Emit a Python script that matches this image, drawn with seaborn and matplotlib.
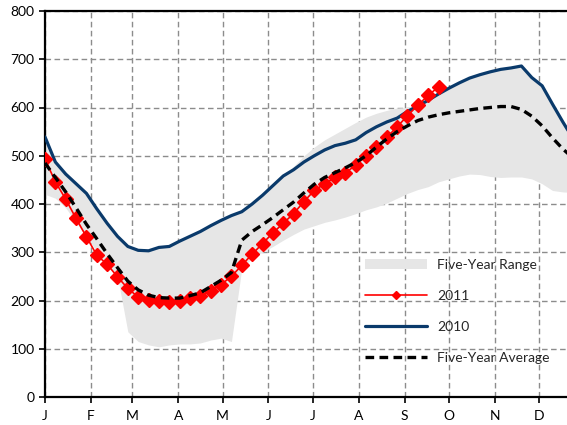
import numpy as np
import pandas as pd
import matplotlib
matplotlib.use("Agg")
import matplotlib.pyplot as plt
from matplotlib.patches import Patch
from matplotlib.lines import Line2D
import seaborn as sns

# Month labels and first day of each month (x axis is in weeks)
months = ["J", "F", "M", "A", "M", "J", "J", "A", "S", "O", "N", "D"]
month_start_day = [0, 31, 59, 90, 120, 151, 181, 212, 243, 273, 304, 334]

weeks = list(range(52))

# Five-year range (min / max)
range_low = [420, 412, 392, 362, 332, 302, 274, 250, 135, 115,
             108, 104, 108, 110, 110, 112, 118, 122, 115, 266,
             288, 300, 312, 325, 337, 348, 355, 362, 367, 373,
             380, 388, 394, 402, 412, 422, 430, 436, 446, 452,
             458, 462, 461, 457, 455, 456, 456, 452, 442, 428,
             425, 424]
range_high = [539, 487, 462, 442, 422, 390, 360, 333, 312, 304,
              303, 310, 312, 323, 333, 343, 355, 366, 376, 384,
              400, 418, 438, 458, 478, 500, 518, 533, 545, 557,
              569, 580, 588, 594, 599, 600, 603, 615, 628, 640,
              651, 661, 668, 674, 679, 682, 686, 662, 645, 607,
              570, 535]

# 2010 storage
y2010 = [539, 487, 462, 442, 422, 390, 360, 333, 312, 304,
         303, 310, 312, 323, 333, 343, 355, 366, 376, 384,
         400, 418, 438, 458, 471, 487, 500, 512, 521, 526,
         533, 548, 560, 570, 578, 592, 603, 615, 628, 640,
         651, 661, 668, 674, 679, 682, 686, 662, 645, 607,
         570, 535]

# Five-year average
avg5 = [485, 455, 425, 392, 358, 328, 297, 268, 240, 222,
        211, 206, 205, 205, 210, 216, 229, 242, 258, 325,
        343, 357, 372, 388, 404, 423, 441, 455, 465, 475,
        486, 500, 518, 535, 550, 562, 573, 580, 585, 589,
        592, 595, 598, 600, 602, 602, 596, 582, 562, 537,
        514, 495]

# 2011 storage (through early October)
y2011 = [493, 446, 410, 370, 332, 294, 275, 249, 225, 207,
         201, 200, 197, 198, 205, 210, 220, 233, 250, 273,
         296, 318, 340, 360, 380, 405, 428, 442, 455, 465,
         480, 500, 518, 538, 560, 583, 605, 625, 643]

df = pd.DataFrame({"week": weeks, "low": range_low, "high": range_high,
                   "y2010": y2010, "avg": avg5})
df11 = pd.DataFrame({"week": weeks[:len(y2011)], "y2011": y2011})

sns.set_theme(style="white")
plt.rcParams["font.family"] = ["Lato", "DejaVu Sans"]

fig = plt.figure(figsize=(5.67, 4.25), dpi=100)
ax = fig.add_axes([45 / 567, 28 / 425, 522 / 567, 386 / 425])

gray = "#e6e6e6"
navy = "#0a3a6b"

ax.fill_between(df["week"], df["low"], df["high"], color=gray, lw=0, zorder=1)
sns.lineplot(data=df, x="week", y="y2010", ax=ax, color=navy, lw=2.3,
             legend=False, zorder=3)
sns.lineplot(data=df11, x="week", y="y2011", ax=ax, color="red", lw=1.2,
             marker="D", markersize=7.3, markeredgecolor="red",
             markeredgewidth=1, legend=False, zorder=4)
sns.lineplot(data=df, x="week", y="avg", ax=ax, color="black", lw=2.4,
             linestyle=(0, (2.6, 1.6)), legend=False, zorder=5)

ticks_x = [d / 7 for d in month_start_day]
ax.set_xticks(ticks_x)
ax.set_xticklabels(months)
ax.set_xlim(0, 50.4)
ax.set_ylim(0, 800)
ax.set_yticks(range(0, 801, 100))
ax.set_xlabel("")
ax.set_ylabel("")

ax.grid(True, color="#8c8c8c", linestyle=(0, (4, 2.5)), linewidth=1)
ax.set_axisbelow(True)

for side in ["left", "bottom", "top"]:
    ax.spines[side].set_visible(True)
    ax.spines[side].set_color("black")
    ax.spines[side].set_linewidth(1.6)
ax.spines["right"].set_visible(False)

ax.tick_params(axis="both", direction="out", length=4.5, width=1.2,
               color="black", labelsize=10, labelcolor="black", pad=3,
               bottom=True, left=True)
ax.tick_params(axis="x", pad=5)

handles = [
    Patch(facecolor=gray, edgecolor="none"),
    Line2D([], [], color="red", lw=1.2, marker="D", markersize=4,
           markeredgecolor="red"),
    Line2D([], [], color=navy, lw=2.3),
    Line2D([], [], color="black", lw=2.4, linestyle=(0, (2.6, 1.6))),
]
labels = ["Five-Year Range", "2011", "2010", "Five-Year Average"]
ax.legend(handles, labels, loc="upper left", bbox_to_anchor=(0.613, 0.358),
          frameon=False, fontsize=10, handlelength=4.5, handletextpad=0.7,
          labelspacing=1.38, borderpad=0, borderaxespad=0)

plt.savefig("out.png", dpi=100)
